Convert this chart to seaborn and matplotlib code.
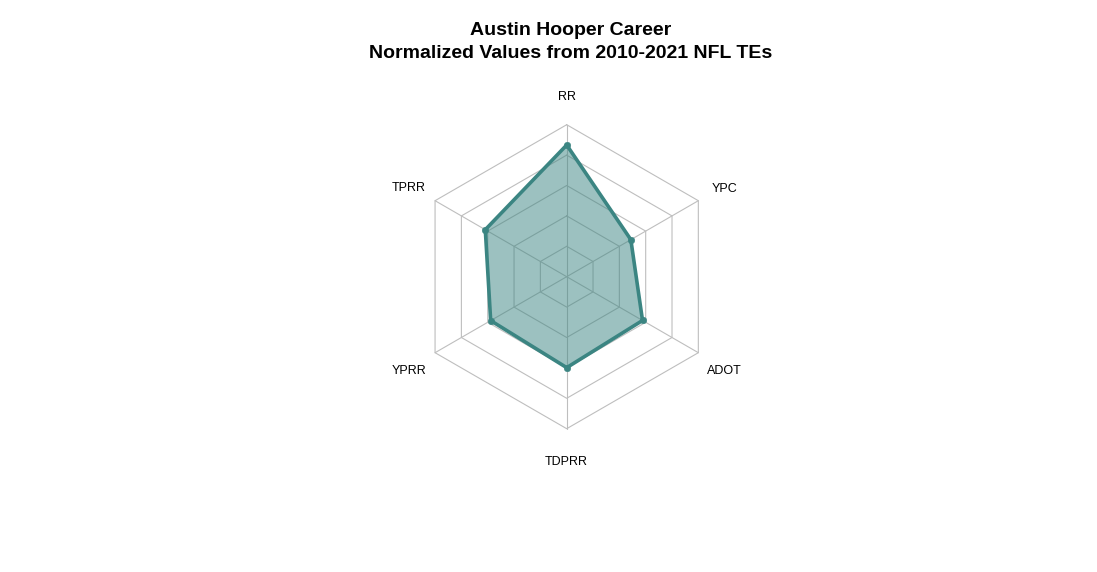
import numpy as np
import pandas as pd
import matplotlib
matplotlib.use("Agg")
import matplotlib.pyplot as plt
import seaborn as sns

# Data (normalized 0-1), counter-clockwise from top
metrics = ["RR", "TPRR", "YPRR", "TDPRR", "ADOT", "YPC"]
values = [0.833, 0.523, 0.472, 0.498, 0.47, 0.359]
n_seg = 4

sns.set_theme(style="white")
plt.rcParams['font.family'] = ['Liberation Sans', 'DejaVu Sans']
plt.rcParams['text.color'] = 'black'

W, H = 1097, 572
cx, cy, R = 566.7, 276.7, 152.0
fig = plt.figure(figsize=(W / 100, H / 100), dpi=100)
ax = fig.add_axes([0, 0, 1, 1])
ax.set_xlim(-cx / R, (W - cx) / R)
ax.set_ylim(-(H - cy) / R, cy / R)
ax.axis("off")

n = len(metrics)
angles = np.pi / 2 + 2 * np.pi * np.arange(n) / n

# grid hexagons (fmsb-style with center hole)
grid_col = "#bebebe"
for k in range(1, n_seg + 2):
    r = k / (n_seg + 1)
    gx = np.r_[r * np.cos(angles), r * np.cos(angles[0])]
    gy = np.r_[r * np.sin(angles), r * np.sin(angles[0])]
    ax.plot(gx, gy, color=grid_col, lw=0.8, zorder=1)
for a in angles:
    ax.plot([0, np.cos(a)], [0, np.sin(a)], color=grid_col, lw=0.8, zorder=1)

# data polygon
rad = 1 / (n_seg + 1) + np.array(values) * n_seg / (n_seg + 1)
px = rad * np.cos(angles)
py = rad * np.sin(angles)
df = pd.DataFrame({"x": np.r_[px, px[0]], "y": np.r_[py, py[0]],
                   "metric": metrics + [metrics[0]]})
line_col = "#3b8582"
ax.fill(px, py, color="#3b8582", alpha=0.5, lw=0, zorder=2)
sns.lineplot(data=df, x="x", y="y", sort=False, estimator=None,
             color=line_col, lw=2.6, ax=ax, zorder=3)
sns.scatterplot(data=df.iloc[:-1], x="x", y="y", color=line_col, s=22,
                edgecolor=line_col, ax=ax, zorder=4)
ax.set_xlabel("")
ax.set_ylabel("")
ax.axis("off")

# labels
dy = -3 / R
for m, a in zip(metrics, angles):
    ax.text(1.2 * np.cos(a), 1.2 * np.sin(a) + dy, m, ha="center", va="center",
            fontsize=9, color="black")

fig.text(571 / W, 1 - 42 / H,
         "Austin Hooper Career\nNormalized Values from 2010-2021 NFL TEs",
         ha="center", va="center", fontsize=14, fontweight="bold",
         linespacing=1.42, color="black")

fig.savefig("out.png", dpi=100, facecolor="white")
